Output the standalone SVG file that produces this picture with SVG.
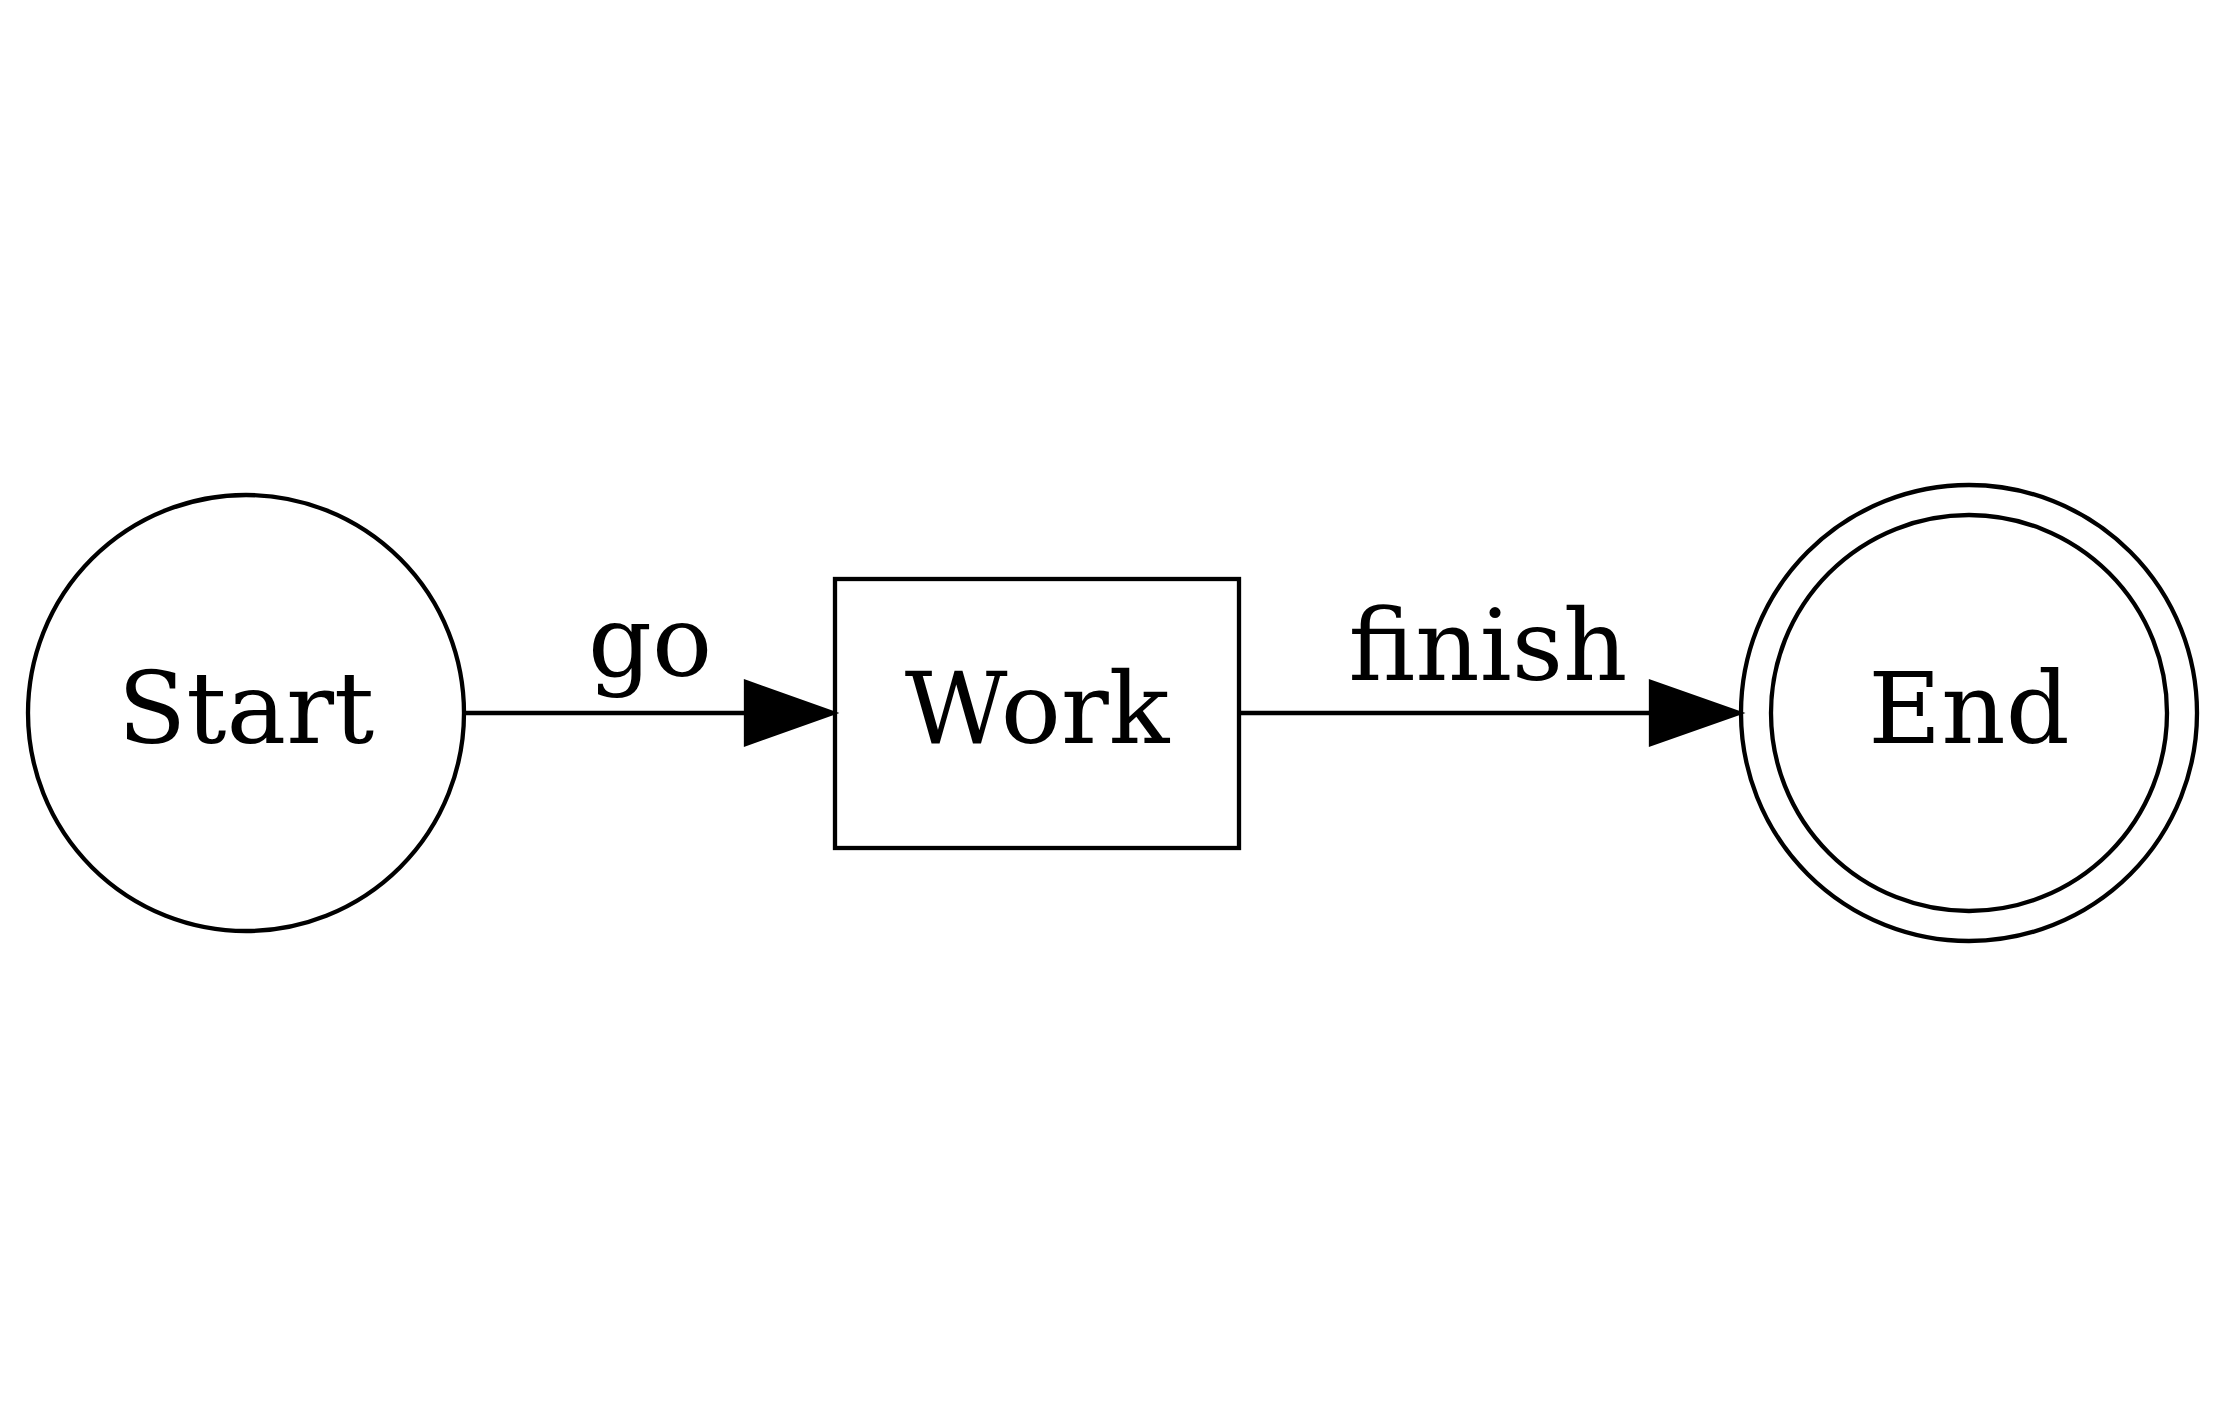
<svg xmlns="http://www.w3.org/2000/svg" width="2226" height="1422" viewBox="0 0 2226 1422">
<style>
.s{fill:none;stroke:#000;stroke-width:4.3}
text{font-family:"DejaVu Serif","Liberation Serif",serif;font-size:100px;text-anchor:middle;fill:#000}
</style>
<rect width="2226" height="1422" fill="#fff"/>
<g id="connectors">
<line class="s" x1="464" y1="713" x2="748" y2="713"/>
<polygon points="746,682 833,713 746,744" fill="#000" stroke="#000" stroke-width="4.3"/>
<text x="650" y="676">go</text>
<line class="s" x1="1241" y1="713" x2="1653" y2="713"/>
<polygon points="1651,682 1739,713 1651,744" fill="#000" stroke="#000" stroke-width="4.3"/>
<text x="1488" y="680">finish</text>
</g>
<g id="start"><circle class="s" cx="246" cy="713" r="218"/><text x="246" y="743">Start</text></g>
<g id="work"><rect class="s" x="835" y="579" width="404" height="269"/><text x="1037" y="743">Work</text></g>
<g id="end"><circle class="s" cx="1969" cy="713" r="228"/><circle class="s" cx="1969" cy="713" r="198"/><text x="1969" y="743">End</text></g>
</svg>
